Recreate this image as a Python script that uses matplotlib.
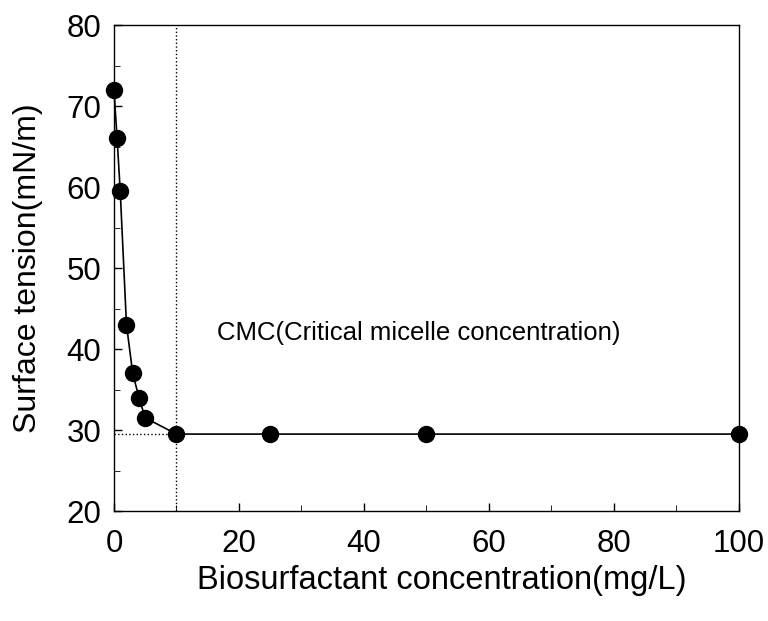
import matplotlib.pyplot as plt
import numpy as np

plt.rcParams['font.family'] = ['Liberation Sans', 'DejaVu Sans']

# Concentracion (mg/L) y tension superficial (mN/m)
concentracion = [0, 0.5, 1, 2, 3, 4, 5, 10, 25, 50, 100]
tension = [72, 66, 59.5, 43, 37, 34, 31.5, 29.5, 29.5, 29.5, 29.5]
cmc_x = 10
cmc_y = 29.5

fig = plt.figure(figsize=(7.68, 6.21), dpi=100)
ax = fig.add_axes([0.1484, 0.1771, 0.8138, 0.7826])

ax.plot(concentracion, tension, color='black', linewidth=1.2, marker='o',
        markersize=11.5, markerfacecolor='black', zorder=3, clip_on=False)

ax.axvline(cmc_x, color='black', linestyle=':', linewidth=1)
ax.plot([0, cmc_x], [cmc_y, cmc_y], color='black', linestyle=':', linewidth=1)

ax.text(16.5, 42, 'CMC(Critical micelle concentration)', fontsize=18.5, va='center')

ax.set_xlim(0, 100)
ax.set_ylim(20, 80)
ax.set_xticks(np.arange(0, 101, 20))
ax.set_xticks(np.arange(0, 101, 10), minor=True)
ax.set_yticks(np.arange(20, 81, 10))
ax.set_yticks(np.arange(20, 81, 5), minor=True)
ax.tick_params(direction='in', labelsize=22.5, length=6, width=1, pad=9)
ax.tick_params(axis='x', pad=13)
ax.tick_params(which='minor', direction='in', length=4)
for s in ax.spines.values():
    s.set_linewidth(1)

ax.set_xlabel('Biosurfactant concentration(mg/L)', fontsize=23.5, va='center')
ax.xaxis.set_label_coords(0.525, -0.142)
ax.set_ylabel('Surface tension(mN/m)', fontsize=23, va='center')
ax.yaxis.set_label_coords(-0.137, 0.50)

fig.savefig('out.png', dpi=100)
